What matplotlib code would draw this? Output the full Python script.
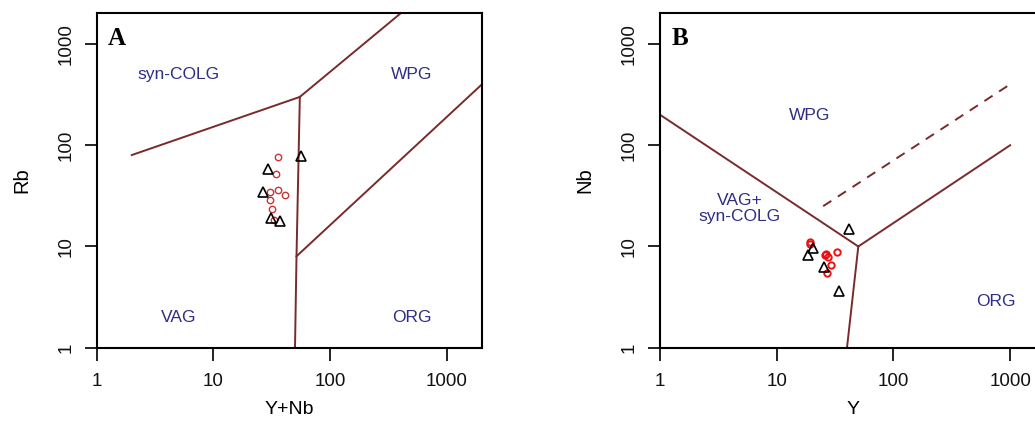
import matplotlib
matplotlib.use("Agg")
import matplotlib.pyplot as plt

# ---------------- data ----------------
# Panel A: Rb vs Y+Nb
a_circ_ynb = [36, 34.2, 30.5, 35.6, 41.1, 30.5, 31.6, 33.2]
a_circ_rb = [76.8, 52.5, 34.8, 36.2, 32.0, 28.5, 23.6, 18.3]
a_tri_ynb = [29.2, 26.8, 31.0, 37.2, 56.0]
a_tri_rb = [58.8, 34.3, 19.2, 17.7, 79.0]

# Panel B: Nb vs Y
b_circ_y = [19.4, 19.2, 25.8, 26.6, 27.4, 32.9, 29.0, 27.1]
b_circ_nb = [11.1, 10.5, 8.2, 8.5, 7.9, 8.8, 6.5, 5.45]
b_tri_y = [18.7, 20.4, 25.4, 42.0, 34.5]
b_tri_nb = [8.3, 9.6, 6.2, 14.9, 3.6]

# discrimination boundaries (Pearce et al. 1984)
a_lines = [
    ([2, 55], [80, 300]),
    ([55, 400], [300, 2000]),
    ([55, 51.5, 50], [300, 8, 1]),
    ([51.5, 2000], [8, 400]),
]
a_labels = [("syn-COLG", 5, 500), ("WPG", 500, 500), ("VAG", 5, 2), ("ORG", 500, 2)]

b_lines = [
    ([1, 50], [200, 10]),
    ([50, 40], [10, 1]),
    ([50, 1000], [10, 100]),
]
b_dashed = ([25, 1000], [25, 400])
b_labels = [("WPG", 19, 195), ("VAG+\nsyn-COLG", 4.8, 23.5), ("ORG", 760, 2.84)]

ticks = [1, 10, 100, 1000]
tick_labels = ["1", "10", "100", "1000"]

# ---------------- figure ----------------
W, H = 1035, 423
fig = plt.figure(figsize=(W / 100, H / 100), dpi=100)
plt.rcParams['font.family'] = ['Liberation Sans', 'DejaVu Sans']

line_col = '#7a2a2a'
text_col = '#2e2e85'

ax_w = (482 - 96.7) / W
ax_h = (347.7 - 13.5) / H
ax_b = (H - 347.7) / H
axA = fig.add_axes([96.7 / W, ax_b, ax_w, ax_h])
axB = fig.add_axes([660 / W, ax_b, ax_w, ax_h])


def style(ax, xlabel, ylabel, letter):
    ax.set_xscale('log')
    ax.set_yscale('log')
    ax.set_xlim(1, 2000)
    ax.set_ylim(1, 2000)
    ax.set_xticks(ticks)
    ax.set_xticklabels(tick_labels)
    ax.set_yticks(ticks)
    ax.set_yticklabels(tick_labels, rotation=90, va='center')
    ax.minorticks_off()
    ax.tick_params(direction='out', length=9, width=1.3, labelsize=13.5,
                   pad=9, colors='#111111')
    ax.tick_params(axis='y', pad=7)
    for s in ax.spines.values():
        s.set_linewidth(1.5)
    ax.set_xlabel(xlabel, fontsize=14)
    ax.set_ylabel(ylabel, fontsize=14.5)
    ax.xaxis.set_label_coords(0.5, -0.158)
    ax.yaxis.set_label_coords(-0.17, 0.5)
    ax.text(0.052, 0.925, letter, transform=ax.transAxes, fontsize=18,
            fontweight='bold', family='Liberation Serif', ha='center', va='center')


style(axA, "Y+Nb", "Rb", "A")
style(axB, "Y", "Nb", "B")

for xs, ys in a_lines:
    axA.plot(xs, ys, color=line_col, lw=1.4)
for t, x, y in a_labels:
    axA.text(x, y, t, color=text_col, fontsize=12.5, ha='center', va='center')

axA.plot(a_circ_ynb, a_circ_rb, 'o', ms=4.6, mfc='none', mec='#cc3333', mew=1.0)
axA.plot(a_tri_ynb, a_tri_rb, '^', ms=6.5, mfc='none', mec='black', mew=1.2)

for xs, ys in b_lines:
    axB.plot(xs, ys, color=line_col, lw=1.4)
axB.plot(*b_dashed, color=line_col, lw=1.4, ls=(0, (5, 4)))
for t, x, y in b_labels:
    axB.text(x, y, t, color=text_col, fontsize=12.5, ha='center', va='center',
             linespacing=1.1)

axB.plot(b_circ_y, b_circ_nb, 'o', ms=4.6, mfc='none', mec='#ee1111', mew=1.4)
axB.plot(b_tri_y, b_tri_nb, '^', ms=6.5, mfc='none', mec='black', mew=1.2)

fig.savefig("out.png", dpi=100)
